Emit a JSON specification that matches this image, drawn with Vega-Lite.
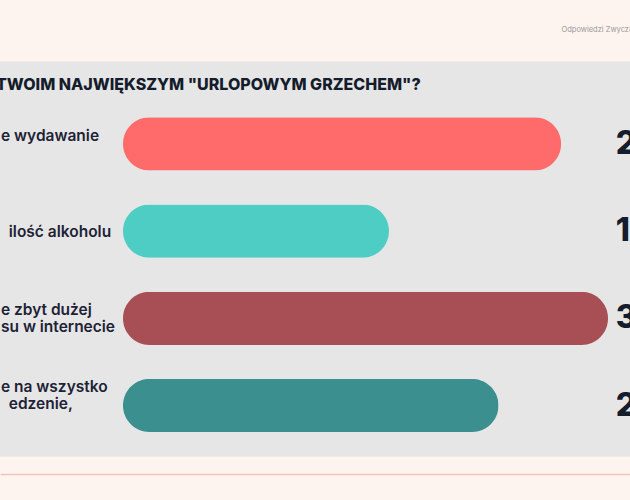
{
  "$schema": "https://vega.github.io/schema/vega-lite/v6.json",
  "width": 630,
  "height": 395,
  "autosize": "none",
  "padding": {"top": 61.5, "left": 0, "right": 0, "bottom": 43.5},
  "background": "#fdf3ef",
  "view": {"fill": "#e6e6e6", "stroke": null},
  "title": {
    "text": "TWOIM NAJWIĘKSZYM \"URLOPOWYM GRZECHEM\"?",
    "anchor": "start",
    "offset": -67,
    "dx": -4,
    "font": "Inter",
    "fontSize": 16,
    "fontWeight": 800,
    "color": "#151c2c"
  },
  "data": {
    "values": [
      {"kategoria": "e wydawanie", "wynik": 28, "etykieta": "28%"},
      {"kategoria": "\u200b\u00a0\u00a0ilość alkoholu", "wynik": 17, "etykieta": "17%"},
      {"kategoria": "e zbyt dużej\nsu w internecie", "wynik": 31, "etykieta": "31%"},
      {"kategoria": "e na wszystko\n\u200b\u00a0\u00a0edzenie,", "wynik": 24, "etykieta": "24%"}
    ]
  },
  "encoding": {
    "y": {
      "field": "kategoria",
      "type": "nominal",
      "sort": null,
      "scale": {"paddingInner": 0.39, "paddingOuter": 0.46, "align": 0.696},
      "axis": null
    }
  },
  "layer": [
    {
      "mark": {"type": "bar", "cornerRadius": 26.5},
      "encoding": {
        "x": {
          "field": "wynik",
          "type": "quantitative",
          "scale": {"domain": [-7.862, 32.406], "nice": false, "zero": false},
          "axis": {
            "orient": "bottom",
            "domain": true,
            "domainColor": "#f4c4bb",
            "domainWidth": 1.5,
            "offset": 17.5,
            "ticks": false,
            "labels": false,
            "grid": false,
            "title": null
          }
        },
        "color": {
          "field": "kategoria",
          "type": "nominal",
          "sort": null,
          "scale": {"range": ["#ff6b6b", "#4ecdc4", "#a84f55", "#3b8f8f"]},
          "legend": null
        }
      }
    },
    {
      "transform": [{"filter": {"field": "wynik", "oneOf": [28, 31]}}],
      "mark": {
        "type": "text",
        "align": "left",
        "baseline": "middle",
        "dy": -8,
        "font": "Inter",
        "fontSize": 15.5,
        "fontWeight": 600,
        "color": "#1e2235",
        "lineBreak": "\n",
        "lineHeight": 17
      },
      "encoding": {
        "x": {"datum": -7.8, "type": "quantitative", "axis": null},
        "text": {"field": "kategoria"}
      }
    },
    {
      "transform": [{"filter": {"field": "wynik", "equal": 17}}],
      "mark": {
        "type": "text",
        "align": "left",
        "baseline": "middle",
        "dy": 1,
        "font": "Inter",
        "fontSize": 15.5,
        "fontWeight": 600,
        "color": "#1e2235",
        "lineBreak": "\n",
        "lineHeight": 17
      },
      "encoding": {
        "x": {"datum": -7.8, "type": "quantitative", "axis": null},
        "text": {"field": "kategoria"}
      }
    },
    {
      "transform": [{"filter": {"field": "wynik", "equal": 24}}],
      "mark": {
        "type": "text",
        "align": "left",
        "baseline": "middle",
        "dy": -18.5,
        "font": "Inter",
        "fontSize": 15.5,
        "fontWeight": 600,
        "color": "#1e2235",
        "lineBreak": "\n",
        "lineHeight": 17
      },
      "encoding": {
        "x": {"datum": -7.8, "type": "quantitative", "axis": null},
        "text": {"field": "kategoria"}
      }
    },
    {
      "mark": {
        "type": "text",
        "align": "left",
        "baseline": "middle",
        "font": "Inter",
        "fontSize": 32,
        "fontWeight": 800,
        "color": "#151c2c"
      },
      "encoding": {
        "x": {
          "datum": 31.5,
          "type": "quantitative",
          "axis": {
            "orient": "top",
            "domain": false,
            "ticks": false,
            "labels": false,
            "grid": false,
            "title": "Odpowiedzi Zwyczaje urlopowe",
            "titleX": 561,
            "titleY": -32,
            "titleAlign": "left",
            "titleBaseline": "middle",
            "titleFont": "Inter",
            "titleFontSize": 7.5,
            "titleFontWeight": "normal",
            "titleColor": "#9a9a9a"
          }
        },
        "text": {"field": "etykieta"}
      }
    }
  ],
  "resolve": {"axis": {"x": "independent"}}
}
